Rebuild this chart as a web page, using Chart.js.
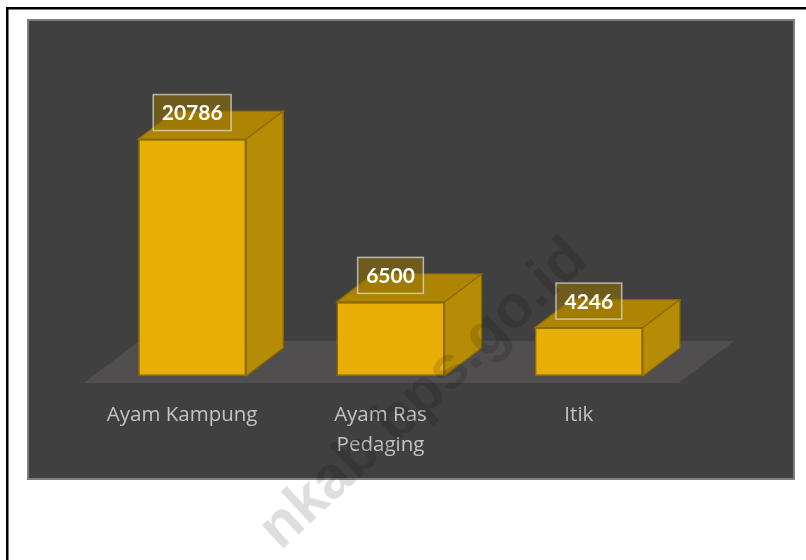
<!DOCTYPE html>
<html><head><meta charset="utf-8">
<script src="https://cdn.jsdelivr.net/npm/chart.js@4"></script>
<style>html,body{margin:0;padding:0;background:#fff;overflow:hidden}canvas{display:block}</style>
</head><body>
<canvas id="c" width="806" height="560" style="width:806px;height:560px"></canvas>
<script>
const categories = [['Ayam Kampung'], ['Ayam Ras', 'Pedaging'], ['Itik']];
const values = [20786, 6500, 4246];
const yMax = 25000;
const watermarkText = 'nkab.bps.go.id';

const DEPTH_X = 37, DEPTH_Y = -28;

const backdrop = {
  id: 'backdrop',
  beforeDraw(chart) {
    const ctx = chart.ctx;
    ctx.save();
    ctx.fillStyle = '#ffffff';
    ctx.fillRect(0, 0, chart.width, chart.height);
    ctx.strokeStyle = '#000000';
    ctx.lineWidth = 2.5;
    ctx.strokeRect(7.25, 8.25, 900, 700);
    ctx.fillStyle = '#404040';
    ctx.fillRect(27, 19, 768, 461);
    ctx.strokeStyle = '#7f7f7f';
    ctx.lineWidth = 2;
    ctx.strokeRect(28, 20, 766, 459);
    ctx.restore();
  }
};

const floor3d = {
  id: 'floor3d',
  beforeDatasetsDraw(chart) {
    const ctx = chart.ctx;
    const area = chart.chartArea;
    const y0 = chart.scales.y.getPixelForValue(0);
    ctx.save();
    const f0 = -0.25, f1 = 1.25;
    ctx.fillStyle = '#504e4f';
    ctx.beginPath();
    ctx.moveTo(area.left + f0 * DEPTH_X, y0 + f0 * DEPTH_Y);
    ctx.lineTo(area.right + f0 * DEPTH_X, y0 + f0 * DEPTH_Y);
    ctx.lineTo(area.right + f1 * DEPTH_X, y0 + f1 * DEPTH_Y);
    ctx.lineTo(area.left + f1 * DEPTH_X, y0 + f1 * DEPTH_Y);
    ctx.closePath();
    ctx.fill();
    const meta = chart.getDatasetMeta(0);
    meta.data.forEach((el) => {
      const p = el.getProps(['x', 'y', 'base', 'width'], true);
      const x0 = p.x - p.width / 2, x1 = p.x + p.width / 2;
      const top = p.y, bot = p.base;
      ctx.lineWidth = 1.2;
      ctx.strokeStyle = '#8c6a00';
      ctx.fillStyle = '#b68b05';
      ctx.beginPath();
      ctx.moveTo(x1, top);
      ctx.lineTo(x1 + DEPTH_X, top + DEPTH_Y);
      ctx.lineTo(x1 + DEPTH_X, bot + DEPTH_Y);
      ctx.lineTo(x1, bot);
      ctx.closePath();
      ctx.fill();
      ctx.stroke();
      ctx.fillStyle = '#ad8502';
      ctx.beginPath();
      ctx.moveTo(x0, top);
      ctx.lineTo(x1, top);
      ctx.lineTo(x1 + DEPTH_X, top + DEPTH_Y);
      ctx.lineTo(x0 + DEPTH_X, top + DEPTH_Y);
      ctx.closePath();
      ctx.fill();
      ctx.stroke();
    });
    ctx.restore();
  }
};

const valueLabels = {
  id: 'valueLabels',
  afterDatasetsDraw(chart) {
    const ctx = chart.ctx;
    const meta = chart.getDatasetMeta(0);
    ctx.save();
    ctx.font = 'bold 21px Lato';
    ctx.textAlign = 'center';
    ctx.textBaseline = 'middle';
    meta.data.forEach((el, i) => {
      const p = el.getProps(['x', 'y'], true);
      const txt = String(chart.data.datasets[0].data[i]);
      const tw = ctx.measureText(txt).width;
      const bw = tw + 17, bh = 36;
      const bx = p.x - bw / 2, by = p.y - 8.5 - bh;
      ctx.fillStyle = 'rgba(150,115,0,0.55)';
      ctx.fillRect(bx, by, bw, bh);
      ctx.strokeStyle = 'rgba(225,225,225,0.7)';
      ctx.lineWidth = 1.5;
      ctx.strokeRect(bx, by, bw, bh);
      ctx.fillStyle = '#ffffff';
      ctx.fillText(txt, p.x, by + bh / 2 + 1);
    });
    ctx.restore();
  }
};

const watermark = {
  id: 'watermark',
  afterDraw(chart) {
    const ctx = chart.ctx;
    ctx.save();
    ctx.translate(425, 396);
    ctx.rotate(-43 * Math.PI / 180);
    ctx.font = 'bold 60px "Liberation Sans"';
    ctx.textAlign = 'center';
    ctx.textBaseline = 'alphabetic';
    ctx.fillStyle = 'rgba(0,0,0,0.13)';
    ctx.fillText(watermarkText, 0, 15);
    ctx.restore();
  }
};

new Chart(document.getElementById('c'), {
  type: 'bar',
  data: {
    labels: categories,
    datasets: [{
      data: values,
      backgroundColor: '#e8ae06',
      borderColor: '#8f6c00',
      borderWidth: 1.5,
      borderSkipped: false,
      barPercentage: 0.545,
      categoryPercentage: 1
    }]
  },
  options: {
    responsive: false,
    animation: false,
    events: [],
    layout: { padding: { left: 93, right: 118, top: 91, bottom: 0 } },
    plugins: { legend: { display: false }, tooltip: { enabled: false } },
    scales: {
      x: {
        grid: { display: false },
        border: { display: false },
        ticks: {
          color: '#c4c4c4',
          font: { family: '"Open Sans"', size: 20.5, lineHeight: 1.46 },
          padding: 16,
          labelOffset: -10,
          maxRotation: 0,
          autoSkip: false
        },
        afterFit(s) { s.height = 184; }
      },
      y: { display: false, min: 0, max: yMax }
    }
  },
  plugins: [backdrop, floor3d, valueLabels, watermark]
});
</script>
</body></html>
